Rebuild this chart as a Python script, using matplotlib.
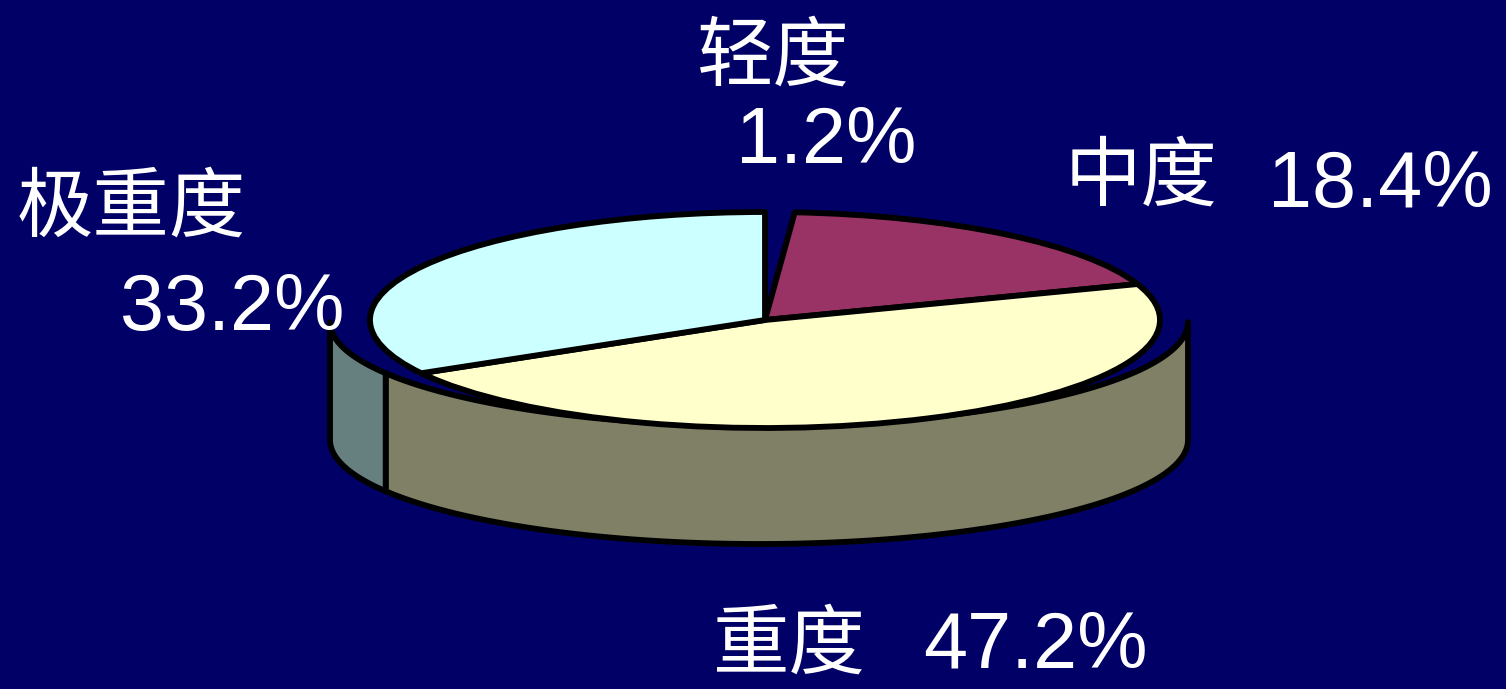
import numpy as np
import matplotlib
matplotlib.use("Agg")
import matplotlib.pyplot as plt
from matplotlib.patches import Wedge, Polygon
from matplotlib.transforms import Affine2D

# ---- data ----
categories = ["轻度", "中度", "重度", "极重度"]
shares = [1.2, 18.4, 47.2, 33.2]
top_colors = ["#000066", "#993366", "#FFFFCC", "#CCFFFF"]
side_colors = ["#000066", "#4D1A33", "#808066", "#668080"]

BG = "#000066"
W, H = 1506, 689

fig = plt.figure(figsize=(W / 100, H / 100), dpi=100, facecolor=BG)
ax = fig.add_axes([0, 0, 1, 1])
ax.set_facecolor(BG)
ax.set_xlim(0, W)
ax.set_ylim(0, H)
ax.axis("off")

def Y(py):
    """pixel row (from top) -> axis y"""
    return H - py

# geometry of the tilted pie
top_c = (765, Y(320)); top_a, top_b = 395, 108
wall_top_c = (759, Y(322)); wall_lo_c = (759, Y(440)); wall_a, wall_b = 429, 104

# slice angles: start at 12 o'clock, go clockwise
angles = 360 * np.array(shares) / sum(shares)
ends = 90 - np.cumsum(angles)
starts = ends + angles

# ---- side walls (only the front half, -180..0 deg, is visible) ----
for s, e, col in zip(starts, ends, side_colors):
    lo, hi = max(e, -180), min(s, 0)
    if hi <= lo or col == BG:
        continue
    t = np.radians(np.linspace(hi, lo, 120))
    up = np.column_stack([wall_top_c[0] + wall_a * np.cos(t),
                          wall_top_c[1] + wall_b * np.sin(t)])
    dn = np.column_stack([wall_lo_c[0] + wall_a * np.cos(t[::-1]),
                          wall_lo_c[1] + wall_b * np.sin(t[::-1])])
    ax.add_patch(Polygon(np.vstack([up, dn]), closed=True, facecolor=col,
                         edgecolor="black", linewidth=4.2, joinstyle="round",
                         zorder=2))

# ---- top face ----
tr = Affine2D().scale(top_a, top_b).translate(*top_c) + ax.transData
for s, e, col in zip(starts, ends, top_colors):
    if col == BG:
        ax.add_patch(Wedge((0, 0), 1, e, s, facecolor=BG, edgecolor="none",
                           transform=tr, zorder=3))
        continue
    ax.add_patch(Wedge((0, 0), 1, e, s, facecolor=col, edgecolor="black",
                       linewidth=4.2, joinstyle="round", transform=tr, zorder=3))

# ---- labels ----
cjk = ["Noto Sans CJK SC", "DejaVu Sans"]
num = ["Liberation Sans", "DejaVu Sans"]
name_pos = [(697, 80), (1065, 200), (712, 668), (17, 231)]
pct_pos = [(736, 163), (1268, 207), (923, 668), (120, 330)]
for name, v, (nx, ny), (px, py) in zip(categories, shares, name_pos, pct_pos):
    ax.text(nx, Y(ny), name, family=cjk, fontsize=55, color="white",
            ha="left", va="baseline", zorder=5)
    ax.text(px, Y(py), f"{v:.1f}%", family=num, fontsize=57, color="white",
            ha="left", va="baseline", zorder=5)

fig.savefig("out.png", dpi=100, facecolor=BG)
